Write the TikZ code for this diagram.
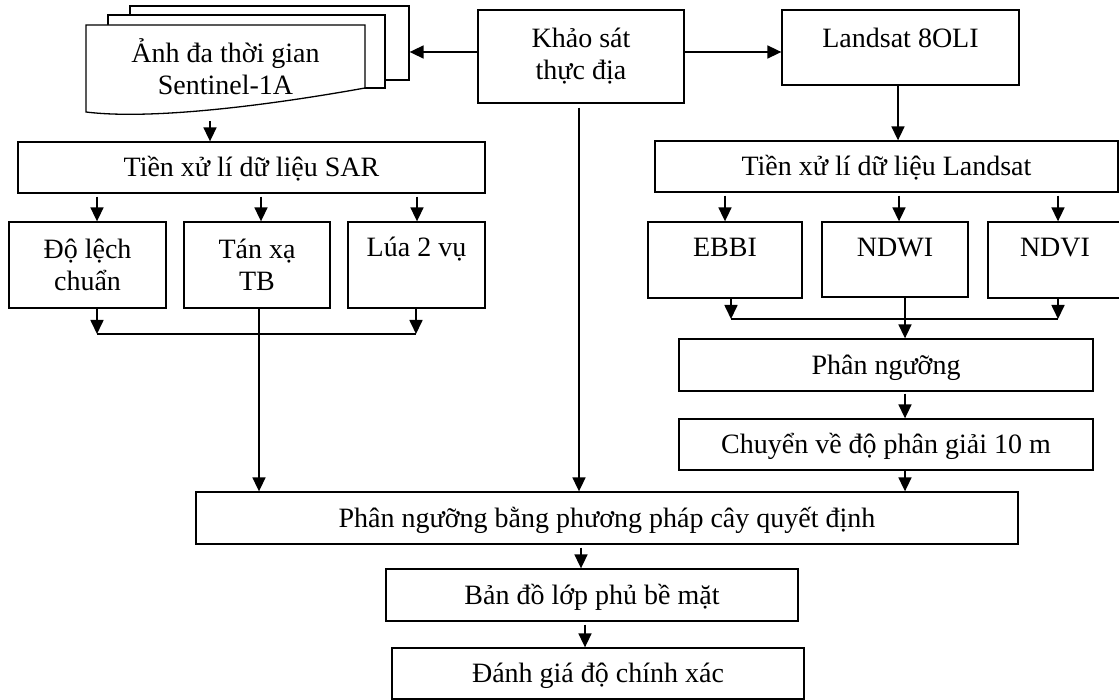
\documentclass[tikz,border=0pt]{standalone}
\usepackage{fontspec}
\setmainfont{Liberation Serif}
\usetikzlibrary{arrows.meta}
\begin{document}
\begin{tikzpicture}[x=1pt,y=-1pt,
 every node/.style={font=\fontsize{28}{32}\selectfont},
 box/.style={draw, line width=1.3pt, fill=white, inner sep=0pt},
 one/.style={text height=28pt, text depth=10pt},
 idx/.style={text height=18pt, text depth=24pt},
 two/.style={align=center},
 arr/.style={line width=1.7pt, -{Triangle[length=14pt,width=13pt]}},
 mrg/.style={line width=2.6pt}]
\useasboundingbox (0,0) rectangle (1119,700);
% stacked document pages
\node[box, minimum width=279pt, minimum height=74pt] (pg3) at (269.5,43) {};
\node[box, minimum width=277pt, minimum height=73pt] (pg2) at (246.5,51.5) {};
\draw[line width=1.3pt, fill=white] (86,25) -- (365,25) -- (365,88) .. controls (265,106) and (150,120) .. (86,112) -- cycle;
\node[two] (sent) at (225.5,67) {Ảnh đa thời gian\\Sentinel-1A};
\coordinate (sentB) at (210,121);
% boxes
\node[box,two,minimum width=206pt,minimum height=93pt] (khao) at (581,56.5) {Khảo sát\\thực địa};
\node[box,text height=18pt,text depth=18pt,minimum width=237pt,minimum height=75pt] (landsat) at (900.5,47.5) {Landsat 8OLI};
\node[box,one,minimum width=467pt,minimum height=51pt] (sar) at (251.5,167.5) {Tiền xử lí dữ liệu SAR};
\node[box,one,minimum width=463pt,minimum height=51pt] (lpre) at (886.5,166.5) {Tiền xử lí dữ liệu Landsat};
\node[box,two,minimum width=157pt,minimum height=86pt] (dolech) at (87.5,265) {Độ lệch\\chuẩn};
\node[box,two,minimum width=146pt,minimum height=86pt] (tanxa) at (257,265) {Tán xạ\\TB};
\node[box,text height=18pt,text depth=34pt,minimum width=137pt,minimum height=86pt] (lua) at (416.5,265) {Lúa 2 vụ};
\node[box,idx,minimum width=154pt,minimum height=76pt] (ebbi) at (725,260) {EBBI};
\node[box,idx,minimum width=146pt,minimum height=75pt] (ndwi) at (895,259.5) {NDWI};
\node[box,idx,minimum width=134pt,minimum height=76pt] (ndvi) at (1055,260) {NDVI};
\node[box,one,minimum width=414pt,minimum height=52pt] (pn) at (886,365) {Phân ngưỡng};
\node[box,one,minimum width=414pt,minimum height=51pt] (cv) at (886,444.5) {Chuyển về độ phân giải 10 m};
\node[box,one,minimum width=822pt,minimum height=52pt] (cay) at (607,518) {Phân ngưỡng bằng phương pháp cây quyết định};
\node[box,one,minimum width=412pt,minimum height=52pt] (bd) at (592,595) {Bản đồ lớp phủ bề mặt};
\node[box,one,minimum width=412pt,minimum height=51pt] (dg) at (598,673.5) {Đánh giá độ chính xác};
% connectors
\draw[arr] ([yshift=4.5pt]khao.west) -- ([yshift=4.5pt]khao.west -| pg3.east);
\draw[arr] ([yshift=4.5pt]khao.east) -- ([yshift=4.5pt]khao.east -| landsat.west);
\draw[arr] ([xshift=-2.5pt]landsat.south) -- ([xshift=-2.5pt]landsat.south |- lpre.north);
\draw[arr] (sentB) -- (sentB |- sar.north);
\draw[arr,shorten <=3pt] ([xshift=9.5pt]dolech.north |- sar.south) -- ([xshift=9.5pt]dolech.north);
\draw[arr,shorten <=3pt] ([xshift=4pt]tanxa.north |- sar.south) -- ([xshift=4pt]tanxa.north);
\draw[arr,shorten <=3pt] ([xshift=0.5pt]lua.north |- sar.south) -- ([xshift=0.5pt]lua.north);
\draw[arr,shorten <=3pt] (ebbi.north |- lpre.south) -- (ebbi.north);
\draw[arr,shorten <=3pt] ([xshift=4pt]ndwi.north |- lpre.south) -- ([xshift=4pt]ndwi.north);
\draw[arr,shorten <=3pt] ([xshift=3pt]ndvi.north |- lpre.south) -- ([xshift=3pt]ndvi.north);
\coordinate (sL) at (97,334);
\coordinate (sR) at (416,334);
\draw[arr] ([xshift=9.5pt]dolech.south) -- (sL);
\draw[arr] ([xshift=-0.5pt]lua.south) -- (sR);
\draw[mrg] (sL) -- (sR);
\draw[arr] ([xshift=2pt]tanxa.south) -- ([xshift=2pt]tanxa.south |- cay.north);
\coordinate (lL) at (731,319);
\coordinate (lR) at (1058,319);
\draw[arr] ([xshift=6pt]ebbi.south) -- (lL);
\draw[arr] ([xshift=3pt]ndvi.south) -- (lR);
\draw[mrg] (lL) -- (lR);
\draw[arr] ([xshift=10pt]ndwi.south) -- ([xshift=10pt]ndwi.south |- pn.north);
\draw[arr,shorten <=2pt] ([xshift=19pt]pn.south) -- ([xshift=19pt]pn.south |- cv.north);
\draw[arr] ([xshift=19pt]cv.south) -- ([xshift=19pt]cv.south |- cay.north);
\draw[arr,shorten <=4pt] ([xshift=-2pt]khao.south) -- ([xshift=-2pt]khao.south |- cay.north);
\draw[arr,shorten <=3pt] ([xshift=-11pt]bd.north |- cay.south) -- ([xshift=-11pt]bd.north);
\draw[arr,shorten <=3pt] ([xshift=-7pt]bd.south) -- ([xshift=-7pt]bd.south |- dg.north);
\end{tikzpicture}
\end{document}
